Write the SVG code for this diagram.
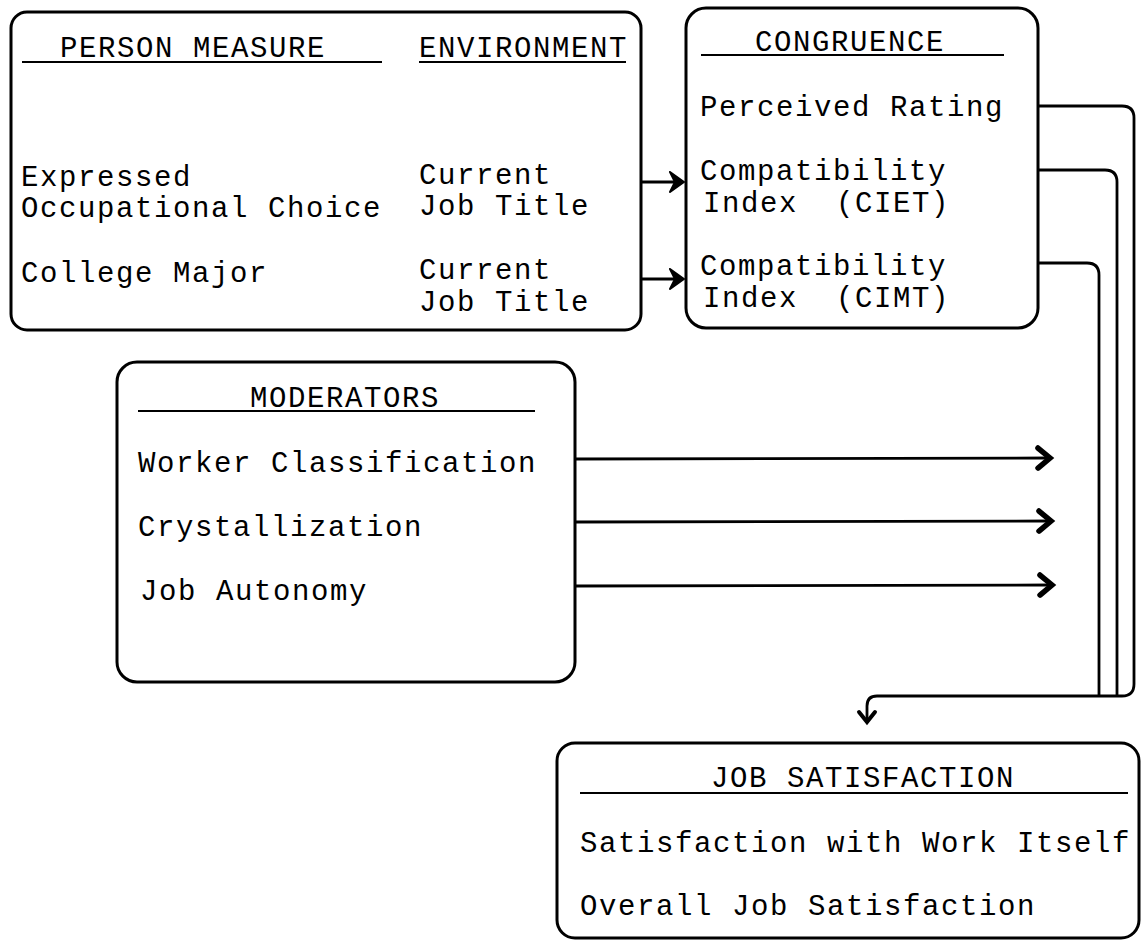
<svg xmlns="http://www.w3.org/2000/svg" width="1142" height="941" viewBox="0 0 1142 941">
<style>
.box{fill:none;stroke:#000;stroke-width:3}
.ul{stroke:#000;stroke-width:2}
.t{font-family:"Liberation Mono","DejaVu Sans Mono",monospace;font-size:29px;letter-spacing:1.6px;fill:#000}
.c{fill:none;stroke:#000;stroke-width:2.8}
</style>
<defs>
<marker id="chev" markerUnits="userSpaceOnUse" markerWidth="22" markerHeight="28" refX="16" refY="14" orient="auto" viewBox="0 0 22 28">
<path d="M4,4 L16,14 L4,24" fill="none" stroke="#000" stroke-width="5.5" stroke-linejoin="miter" stroke-linecap="round"/>
</marker>
<marker id="down" markerUnits="userSpaceOnUse" markerWidth="20" markerHeight="24" refX="14" refY="12" orient="auto" viewBox="0 0 20 24">
<path d="M4,4 L14,12 L4,20" fill="none" stroke="#000" stroke-width="4" stroke-linejoin="miter" stroke-linecap="round"/>
</marker>
<marker id="solid" markerUnits="userSpaceOnUse" markerWidth="18" markerHeight="22" refX="15" refY="11" orient="auto" viewBox="0 0 18 22">
<path d="M2,1 L16,11 L2,21 L7,11 Z" fill="#000" stroke="#000" stroke-width="2" stroke-linejoin="round"/>
</marker>
</defs>
<rect width="1142" height="941" fill="#fff"/>

<g id="person-environment">
<rect class="box" x="11" y="12" width="630" height="318" rx="16"/>
<text class="t" x="60" y="57">PERSON MEASURE</text>
<line class="ul" x1="22" y1="62" x2="382" y2="62"/>
<text class="t" x="419" y="57">ENVIRONMENT</text>
<line class="ul" x1="419" y1="62" x2="626" y2="62"/>
<text class="t" x="21" y="186">Expressed</text>
<text class="t" x="21" y="217">Occupational Choice</text>
<text class="t" x="419" y="184">Current</text>
<text class="t" x="419" y="215">Job Title</text>
<text class="t" x="21" y="282">College Major</text>
<text class="t" x="419" y="279">Current</text>
<text class="t" x="419" y="311">Job Title</text>
</g>

<g id="congruence">
<rect class="box" x="686" y="8" width="352" height="320" rx="20"/>
<text class="t" x="755" y="51">CONGRUENCE</text>
<line class="ul" x1="701" y1="55" x2="1004" y2="55"/>
<text class="t" x="700" y="116">Perceived Rating</text>
<text class="t" x="700" y="180">Compatibility</text>
<text class="t" x="703" y="212" xml:space="preserve">Index  (CIET)</text>
<text class="t" x="700" y="275">Compatibility</text>
<text class="t" x="703" y="307" xml:space="preserve">Index  (CIMT)</text>
</g>

<g id="moderators">
<rect class="box" x="117" y="362" width="458" height="320" rx="20"/>
<text class="t" x="250" y="407">MODERATORS</text>
<line class="ul" x1="138" y1="411" x2="535" y2="411"/>
<text class="t" x="138" y="472">Worker Classification</text>
<text class="t" x="138" y="536">Crystallization</text>
<text class="t" x="140" y="600">Job Autonomy</text>
</g>

<g id="job-satisfaction">
<rect class="box" x="557" y="743" width="582" height="195" rx="18"/>
<text class="t" x="711" y="787">JOB SATISFACTION</text>
<line class="ul" x1="580" y1="793" x2="1128" y2="793"/>
<text class="t" x="580" y="852">Satisfaction with Work Itself</text>
<text class="t" x="580" y="915">Overall Job Satisfaction</text>
</g>

<g id="connectors">
<line class="c" x1="641" y1="182" x2="683" y2="182" marker-end="url(#solid)"/>
<line class="c" x1="641" y1="279" x2="683" y2="279" marker-end="url(#solid)"/>
<line class="c" x1="575" y1="459" x2="1050" y2="458" marker-end="url(#chev)"/>
<line class="c" x1="575" y1="522" x2="1051" y2="521" marker-end="url(#chev)"/>
<line class="c" x1="575" y1="586" x2="1052" y2="585" marker-end="url(#chev)"/>
<path class="c" d="M1038,106 H1122 Q1134,106 1134,118 V684 Q1134,696 1122,696 H877 Q867,696 867,706 V722" marker-end="url(#down)"/>
<path class="c" d="M1038,170 H1105 Q1117,170 1117,182 V696"/>
<path class="c" d="M1038,263 H1087 Q1099,263 1099,275 V696"/>
</g>
</svg>
